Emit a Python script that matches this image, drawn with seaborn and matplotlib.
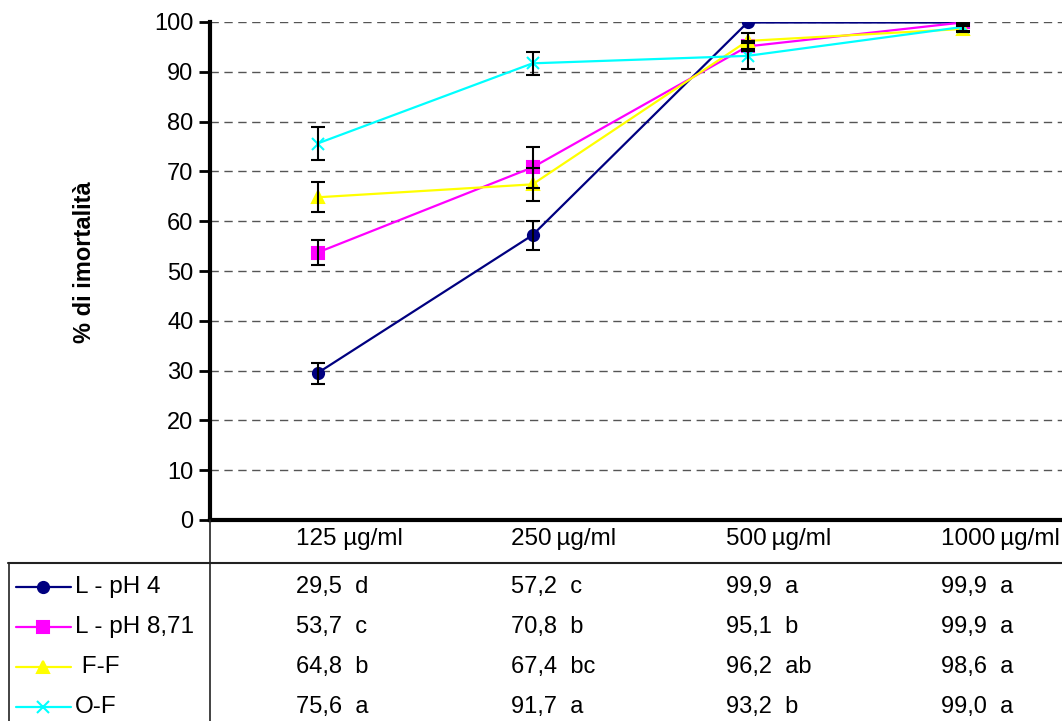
import numpy as np
import pandas as pd
import seaborn as sns
import matplotlib.pyplot as plt
from matplotlib.lines import Line2D
from matplotlib import transforms

sns.set_style("white")
plt.rcParams['font.family'] = ['Liberation Sans', 'DejaVu Sans']
plt.rcParams['text.color'] = 'black'
plt.rcParams['ytick.color'] = 'black'
plt.rcParams['axes.labelcolor'] = 'black'

W, H = 1062, 721

# data
doses = ["125 µg/ml", "250\u2009µg/ml", "500\u2009µg/ml", "1000\u2009µg/ml"]
series = ["L - pH 4", "L - pH 8,71", "F-F", "O-F"]
legend_labels = ["L - pH 4", "L - pH 8,71", " F-F", "O-F"]

ph4 = [29.5, 57.2, 99.9, 99.9]
ph871 = [53.7, 70.8, 95.1, 99.9]
ff = [64.8, 67.4, 96.2, 98.6]
of = [75.6, 91.7, 93.2, 99.0]

ph4_err = [2.1, 2.9, 0.0, 0.0]
ph871_err = [2.5, 4.1, 1.0, 0.4]
ff_err = [3.0, 3.3, 1.6, 0.6]
of_err = [3.3, 2.3, 2.6, 0.8]

ph4_sig = ["d", "c", "a", "a"]
ph871_sig = ["c", "b", "b", "a"]
ff_sig = ["b", "bc", "ab", "a"]
of_sig = ["a", "a", "b", "a"]

values = [ph4, ph871, ff, of]
errors = [ph4_err, ph871_err, ff_err, of_err]
letters = [ph4_sig, ph871_sig, ff_sig, of_sig]

colors = ["#000080", "#FF00FF", "#FFFF00", "#00FFFF"]
markers = ["o", "s", "^", "x"]

rows = []
for s, vals, errs in zip(series, values, errors):
    for i, (v, e) in enumerate(zip(vals, errs)):
        rows.append({"pos": i, "series": s, "value": v, "err": e})
df = pd.DataFrame(rows)


def fx(px):
    return px / W


def fy(py):
    return 1 - py / H


fig = plt.figure(figsize=(W / 100, H / 100), dpi=100)
ax = fig.add_axes([fx(210), fy(520), (1070 - 210) / W, (520 - 22) / H])

for s, c, m in zip(series, colors, markers):
    sub = df[df["series"] == s]
    sns.lineplot(
        ax=ax,
        data=sub,
        x="pos",
        y="value",
        color=c,
        marker=m,
        markersize=8,
        markeredgecolor=c,
        markeredgewidth=1.5,
        linewidth=1.6,
        sort=False,
        legend=False,
    )
    e = sub[sub["err"] > 0]
    ax.errorbar(e["pos"], e["value"], yerr=e["err"], fmt="none",
                ecolor="black", elinewidth=1.5, capsize=5, capthick=1.5, zorder=3)

ax.set_xlim(-0.5, 3.5)
ax.set_ylim(0, 100)
ax.set_yticks(range(0, 101, 10))
ax.set_xticks([])
ax.set_xlabel("")
ax.set_ylabel("% di imortalità", fontsize=17, fontweight="bold")
ax.yaxis.set_label_coords(-0.133, 0.518)
ax.tick_params(axis="y", direction="out", length=8, width=2, labelsize=17, pad=4, left=True,
               labelcolor="black")
ax.grid(axis="y", color="#555555", linestyle=(0, (6, 4)), linewidth=1)
ax.grid(axis="x", visible=False)
for side in ["top", "right"]:
    ax.spines[side].set_visible(False)
for side in ["left", "bottom"]:
    ax.spines[side].set_linewidth(3)
    ax.spines[side].set_color("black")

# data table under the chart
lc = "#222222"
fig.add_artist(Line2D([fx(8), fx(1062)], [fy(563), fy(563)], color=lc, lw=1.5, transform=fig.transFigure))
fig.add_artist(Line2D([fx(210), fx(210)], [fy(520), fy(721)], color=lc, lw=1.2, transform=fig.transFigure))
fig.add_artist(Line2D([fx(9), fx(9)], [fy(563), fy(721)], color=lc, lw=1.2, transform=fig.transFigure))

mixed = transforms.blended_transform_factory(ax.transData, fig.transFigure)
col_shift = -0.10
row_y = [587, 627, 667, 707]

for i, d in enumerate(doses):
    ax.text(i + col_shift, fy(539), d, transform=mixed, ha="left", va="center",
            fontsize=17.5, clip_on=False)

for r, (vals, sig) in enumerate(zip(values, letters)):
    for i, (v, l) in enumerate(zip(vals, sig)):
        txt = f"{v:.1f}".replace(".", ",") + "  " + l
        ax.text(i + col_shift, fy(row_y[r]), txt, transform=mixed,
                ha="left", va="center", fontsize=17, clip_on=False)

for r, (lab, c, m) in enumerate(zip(legend_labels, colors, markers)):
    y = fy(row_y[r])
    fig.add_artist(Line2D([fx(16), fx(71)], [y, y], color=c, lw=1.6, transform=fig.transFigure))
    fig.add_artist(Line2D([fx(43)], [y], color=c, marker=m, markersize=8, mec=c, mew=1.5,
                          transform=fig.transFigure))
    fig.text(fx(75), y, lab, ha="left", va="center", fontsize=17.5)

fig.savefig("out.png", dpi=100)
